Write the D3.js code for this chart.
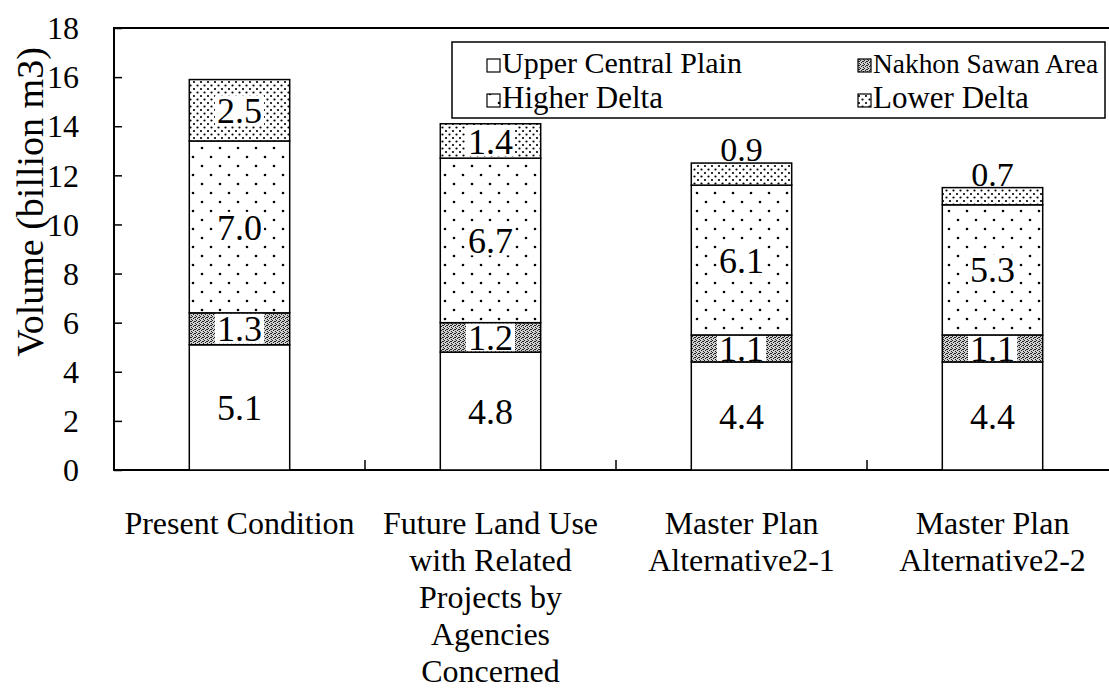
<!DOCTYPE html>
<html><head><meta charset="utf-8">
<script src="https://cdn.jsdelivr.net/npm/d3@7"></script>
<style>
body{margin:0;background:#fff}
svg{display:block}
svg text{font-family:"Liberation Serif","Times New Roman",Times,serif;}
</style>
</head><body>
<svg id="c" width="1109" height="688"></svg>
<script>
const categories = ["Present Condition","Future Land Use with Related Projects by Agencies Concerned","Master Plan Alternative2-1","Master Plan Alternative2-2"];
const categoryLines = [["Present Condition"],["Future Land Use","with Related","Projects by","Agencies","Concerned"],["Master Plan","Alternative2-1"],["Master Plan","Alternative2-2"]];
const seriesNames = ["Upper Central Plain","Nakhon Sawan Area","Higher Delta","Lower Delta"];
const upperCentralPlain = [5.1,4.8,4.4,4.4];
const nakhonSawanArea = [1.3,1.2,1.1,1.1];
const higherDelta = [7.0,6.7,6.1,5.3];
const lowerDelta = [2.5,1.4,0.9,0.7];
const yTicks = [0,2,4,6,8,10,12,14,16,18];
const yTitle = "Volume (billion m3)";

const FONT = '"Liberation Serif"';
const seriesValues = [upperCentralPlain, nakhonSawanArea, higherDelta, lowerDelta];
const rows = categories.map((c,i)=>{const o={cat:c}; seriesNames.forEach((s,j)=>o[s]=seriesValues[j][i]); return o;});

const svg = d3.select("#c");
const L=114, T=28, B=470, R=1118;
const x = d3.scaleBand().domain(categories).range([L,R]).paddingInner(0.6).paddingOuter(0.3);
const y = d3.scaleLinear().domain([0,18]).range([B,T]);

function txt(sel){ return sel.style("font-family",FONT); }
function fit(t, maxW){
  const w = t.node().getComputedTextLength();
  if (w > maxW) { const fs = +t.attr("font-size"); t.attr("font-size", Math.floor(fs*maxW/w*10)/10); }
  return t;
}

const defs = svg.append("defs");
const pn = defs.append("pattern").attr("id","pNak").attr("patternUnits","userSpaceOnUse").attr("width",4).attr("height",4);
pn.append("rect").attr("width",4).attr("height",4).attr("fill","#cfcfcf");
[[0,0],[2,1],[1,2],[3,3],[3,1]].forEach(([a,b])=>pn.append("rect").attr("x",a).attr("y",b).attr("width",1).attr("height",1).attr("fill","#222"));
const ph = defs.append("pattern").attr("id","pHigh").attr("patternUnits","userSpaceOnUse").attr("width",18).attr("height",18);
ph.append("rect").attr("width",18).attr("height",18).attr("fill","#fff");
[[4,4],[13,13]].forEach(([a,b])=>ph.append("circle").attr("cx",a).attr("cy",b).attr("r",1.3).attr("fill","#000"));
const pl = defs.append("pattern").attr("id","pLow").attr("patternUnits","userSpaceOnUse").attr("width",7).attr("height",7);
pl.append("rect").attr("width",7).attr("height",7).attr("fill","#fff");
[[1.5,1.5],[5,5]].forEach(([a,b])=>pl.append("circle").attr("cx",a).attr("cy",b).attr("r",1.1).attr("fill","#000"));
const fills = ["#fff","url(#pNak)","url(#pHigh)","url(#pLow)"];

const gMarks = svg.append("g");
const gText = svg.append("g");
gMarks.append("rect").attr("x",L).attr("y",T).attr("width",R-L).attr("height",B-T).attr("fill","none").attr("stroke","#000").attr("stroke-width",2);

const yAxis = d3.axisRight(y).tickValues(yTicks).tickSize(8).tickFormat("");
gMarks.append("g").attr("transform",`translate(${L},0)`).call(yAxis)
  .call(g=>g.select(".domain").remove())
  .call(g=>g.selectAll("line").attr("stroke","#000").attr("stroke-width",1.5));
txt(gText.append("g").selectAll("text").data(yTicks).join("text")
  .attr("x",79).attr("y",d=>y(d)).attr("dy","0.35em").attr("text-anchor","end")
  .attr("font-size",32)).text(d=>d);

const seps = categories.map((c)=>x(c)-x.step()*x.paddingOuter()).slice(1);
gMarks.append("g").selectAll("line").data(seps).join("line")
  .attr("x1",d=>d).attr("x2",d=>d).attr("y1",B).attr("y2",B-10).attr("stroke","#000").attr("stroke-width",1.5);

const stack = d3.stack().keys(seriesNames)(rows);
stack.forEach((ser,si)=>{
  gMarks.append("g").selectAll("rect").data(ser).join("rect")
    .attr("x",d=>x(d.data.cat)).attr("width",x.bandwidth())
    .attr("y",d=>y(d[1])).attr("height",d=>y(d[0])-y(d[1]))
    .attr("fill",fills[si]).attr("stroke","#000").attr("stroke-width",1.5);
});

const gBox = gMarks.append("g");
stack.forEach((ser,si)=>{
  ser.forEach(d=>{
    const v = d[1]-d[0];
    const cx = x(d.data.cat)+x.bandwidth()/2;
    const label = v.toFixed(1);
    if (v < 1) {
      txt(gText.append("text").attr("x",cx).attr("y",y(d[1])-2).attr("text-anchor","middle").attr("font-size",34)).text(label);
    } else {
      const cy = (y(d[0])+y(d[1]))/2;
      const t = txt(gText.append("text").attr("x",cx).attr("y",cy).attr("dy","0.35em").attr("text-anchor","middle").attr("font-size",36)).text(label);
      const w = t.node().getComputedTextLength() + 4;
      const h = Math.min(y(d[0])-y(d[1])-2, 30);
      gBox.append("rect").attr("x",cx-w/2).attr("width",w).attr("y",cy-h/2).attr("height",h).attr("fill","#fff");
    }
  });
});

categories.forEach((c,i)=>{
  const cx = x(c)+x.bandwidth()/2;
  txt(gText.append("g").selectAll("text").data(categoryLines[i]).join("text")
    .attr("x",cx).attr("y",(d,k)=>534+k*37).attr("text-anchor","middle").attr("font-size",32)).text(d=>d);
});

txt(gText.append("text").attr("transform","translate(43,202) rotate(-90)").attr("text-anchor","middle").attr("font-size",38)).text(yTitle);

const lg = gMarks.append("g");
lg.append("rect").attr("x",452).attr("y",42).attr("width",653).attr("height",76).attr("fill","#fff").attr("stroke","#000").attr("stroke-width",1.5);
const legPos = [[487,73],[858,73],[487,108],[858,108]];
const legMax = [240, 226, 240, 226];
seriesNames.forEach((s,i)=>{
  const [lx,ly]=legPos[i];
  lg.append("rect").attr("x",lx).attr("y",ly-14).attr("width",13).attr("height",13).attr("fill",fills[i]).attr("stroke","#000").attr("stroke-width",1.2);
  fit(txt(gText.append("text").attr("x",lx+15).attr("y",ly).attr("font-size",31)).text(s), legMax[i]);
});
</script>
</body></html>
